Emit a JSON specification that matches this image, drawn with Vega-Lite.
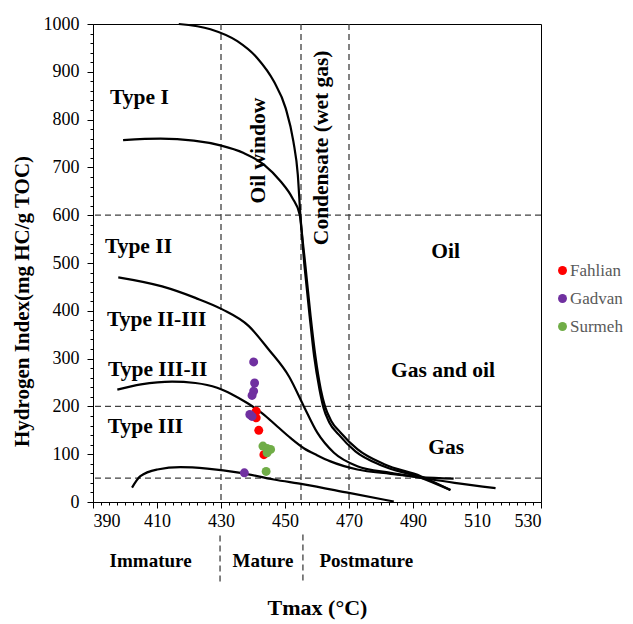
{
  "$schema": "https://vega.github.io/schema/vega-lite/v6.json",
  "width": 448,
  "height": 478,
  "autosize": "none",
  "padding": {"left": 93, "top": 24, "right": 92, "bottom": 122},
  "background": "white",
  "config": {
    "view": {"stroke": "black", "strokeWidth": 1},
    "font": "Times New Roman, Liberation Serif, serif",
    "legend": {"orient": "none", "legendX": 461, "legendY": 238, "title": null, "labelFont": "Times New Roman, Liberation Serif, serif", "labelFontSize": 17, "labelColor": "#595959", "symbolType": "circle", "symbolSize": 80, "symbolStrokeWidth": 0, "rowPadding": 10, "labelOffset": -1}
  },
  "datasets": {
    "vrefs": [{"x": 430}, {"x": 455}, {"x": 470}],
    "hrefs": [{"y": 600}, {"y": 200}, {"y": 50}],
    "seps": [{"x": 429.7, "y": -70, "y2": -170}, {"x": 455.6, "y": -68, "y2": -172}],
    "curves": [
      {"s": "C1", "o": 1, "x": 416.8, "y": 1000},
      {"s": "C1", "o": 2, "x": 426.7, "y": 989},
      {"s": "C1", "o": 3, "x": 435.1, "y": 964},
      {"s": "C1", "o": 4, "x": 441.3, "y": 929},
      {"s": "C1", "o": 5, "x": 446.5, "y": 880},
      {"s": "C1", "o": 6, "x": 450.2, "y": 824},
      {"s": "C1", "o": 7, "x": 452.6, "y": 755},
      {"s": "C1", "o": 8, "x": 454.0, "y": 685},
      {"s": "C1", "o": 9, "x": 454.8, "y": 601},
      {"s": "C1", "o": 10, "x": 456.4, "y": 493},
      {"s": "C1", "o": 11, "x": 458.0, "y": 389},
      {"s": "C1", "o": 12, "x": 459.5, "y": 305},
      {"s": "C1", "o": 13, "x": 461.2, "y": 235},
      {"s": "C1", "o": 14, "x": 462.5, "y": 200},
      {"s": "C1", "o": 15, "x": 464.4, "y": 170},
      {"s": "C1", "o": 16, "x": 467.4, "y": 145},
      {"s": "C1", "o": 17, "x": 472.7, "y": 110},
      {"s": "C1", "o": 18, "x": 481.0, "y": 79},
      {"s": "C1", "o": 19, "x": 492.4, "y": 54},
      {"s": "C1", "o": 20, "x": 501.7, "y": 25},
      {"s": "C2", "o": 1, "x": 399.4, "y": 757},
      {"s": "C2", "o": 2, "x": 411.1, "y": 760},
      {"s": "C2", "o": 3, "x": 421.5, "y": 756},
      {"s": "C2", "o": 4, "x": 429.8, "y": 746},
      {"s": "C2", "o": 5, "x": 437.1, "y": 730},
      {"s": "C2", "o": 6, "x": 443.4, "y": 706},
      {"s": "C2", "o": 7, "x": 448.6, "y": 671},
      {"s": "C2", "o": 8, "x": 452.3, "y": 636},
      {"s": "C2", "o": 9, "x": 454.6, "y": 601},
      {"s": "C2", "o": 10, "x": 456.1, "y": 493},
      {"s": "C2", "o": 11, "x": 457.7, "y": 389},
      {"s": "C2", "o": 12, "x": 459.1, "y": 305},
      {"s": "C2", "o": 13, "x": 460.8, "y": 235},
      {"s": "C2", "o": 14, "x": 462.0, "y": 198},
      {"s": "C2", "o": 15, "x": 463.8, "y": 167},
      {"s": "C2", "o": 16, "x": 466.8, "y": 141},
      {"s": "C2", "o": 17, "x": 472.0, "y": 106},
      {"s": "C2", "o": 18, "x": 480.4, "y": 76},
      {"s": "C2", "o": 19, "x": 492.0, "y": 52},
      {"s": "C2", "o": 20, "x": 501.7, "y": 25},
      {"s": "C3", "o": 1, "x": 397.9, "y": 470},
      {"s": "C3", "o": 2, "x": 411.6, "y": 451},
      {"s": "C3", "o": 3, "x": 422.0, "y": 427},
      {"s": "C3", "o": 4, "x": 430.4, "y": 403},
      {"s": "C3", "o": 5, "x": 438.7, "y": 368},
      {"s": "C3", "o": 6, "x": 444.9, "y": 319},
      {"s": "C3", "o": 7, "x": 451.3, "y": 262},
      {"s": "C3", "o": 8, "x": 455.9, "y": 200},
      {"s": "C3", "o": 9, "x": 460.1, "y": 145},
      {"s": "C3", "o": 10, "x": 465.3, "y": 103},
      {"s": "C3", "o": 11, "x": 472.6, "y": 75},
      {"s": "C3", "o": 12, "x": 483.0, "y": 61},
      {"s": "C3", "o": 13, "x": 492.3, "y": 51},
      {"s": "C3", "o": 14, "x": 503.0, "y": 40},
      {"s": "C3", "o": 15, "x": 515.8, "y": 29},
      {"s": "C4", "o": 1, "x": 397.6, "y": 235},
      {"s": "C4", "o": 2, "x": 405.0, "y": 246},
      {"s": "C4", "o": 3, "x": 414.7, "y": 252},
      {"s": "C4", "o": 4, "x": 422.0, "y": 249},
      {"s": "C4", "o": 5, "x": 428.8, "y": 239},
      {"s": "C4", "o": 6, "x": 433.5, "y": 225},
      {"s": "C4", "o": 7, "x": 438.2, "y": 207},
      {"s": "C4", "o": 8, "x": 443.0, "y": 185},
      {"s": "C4", "o": 9, "x": 447.6, "y": 158},
      {"s": "C4", "o": 10, "x": 451.7, "y": 134},
      {"s": "C4", "o": 11, "x": 456.0, "y": 112},
      {"s": "C4", "o": 12, "x": 460.0, "y": 98},
      {"s": "C4", "o": 13, "x": 464.2, "y": 85},
      {"s": "C4", "o": 14, "x": 472.6, "y": 68},
      {"s": "C4", "o": 15, "x": 483.0, "y": 59},
      {"s": "C4", "o": 16, "x": 492.3, "y": 52},
      {"s": "C4", "o": 17, "x": 502.7, "y": 49},
      {"s": "C5", "o": 1, "x": 402.2, "y": 30},
      {"s": "C5", "o": 2, "x": 404.8, "y": 54},
      {"s": "C5", "o": 3, "x": 410.1, "y": 68},
      {"s": "C5", "o": 4, "x": 417.3, "y": 73},
      {"s": "C5", "o": 5, "x": 425.7, "y": 70},
      {"s": "C5", "o": 6, "x": 436.1, "y": 61},
      {"s": "C5", "o": 7, "x": 446.5, "y": 47},
      {"s": "C5", "o": 8, "x": 455.9, "y": 37},
      {"s": "C5", "o": 9, "x": 470.0, "y": 19},
      {"s": "C5", "o": 10, "x": 484.0, "y": 1}
    ],
    "points": [
      {"formation": "Fahlian", "tmax": 441.0, "hi": 190},
      {"formation": "Fahlian", "tmax": 441.0, "hi": 176},
      {"formation": "Fahlian", "tmax": 441.8, "hi": 150},
      {"formation": "Fahlian", "tmax": 443.4, "hi": 99},
      {"formation": "Gadvan", "tmax": 440.2, "hi": 293},
      {"formation": "Gadvan", "tmax": 440.5, "hi": 249},
      {"formation": "Gadvan", "tmax": 440.2, "hi": 232},
      {"formation": "Gadvan", "tmax": 439.7, "hi": 223},
      {"formation": "Gadvan", "tmax": 439.0, "hi": 183},
      {"formation": "Gadvan", "tmax": 439.7, "hi": 179},
      {"formation": "Gadvan", "tmax": 437.3, "hi": 61},
      {"formation": "Surmeh", "tmax": 443.1, "hi": 117},
      {"formation": "Surmeh", "tmax": 444.4, "hi": 112},
      {"formation": "Surmeh", "tmax": 445.5, "hi": 110},
      {"formation": "Surmeh", "tmax": 444.4, "hi": 103},
      {"formation": "Surmeh", "tmax": 444.1, "hi": 64}
    ],
    "labels": [
      {"t": "Type I", "x": 404.5, "y": 833},
      {"t": "Type II", "x": 404.2, "y": 520},
      {"t": "Type II-III", "x": 409.9, "y": 368},
      {"t": "Type III-II", "x": 410.2, "y": 263},
      {"t": "Type III", "x": 406.4, "y": 145},
      {"t": "Oil", "x": 500.2, "y": 511},
      {"t": "Gas and oil", "x": 499.4, "y": 262},
      {"t": "Gas", "x": 500.4, "y": 101}
    ],
    "vlabels": [
      {"t": "Oil window", "x": 442.0, "y": 735},
      {"t": "Condensate (wet gas)", "x": 461.7, "y": 741}
    ],
    "blabels": [
      {"t": "Immature", "x": 408.0, "y": -137},
      {"t": "Mature", "x": 443.1, "y": -137},
      {"t": "Postmature", "x": 475.4, "y": -137}
    ]
  },
  "layer": [
    {
      "data": {"name": "vrefs"},
      "mark": {"type": "rule", "color": "#404040", "strokeWidth": 1.3, "strokeDash": [6, 4]},
      "encoding": {
        "x": {"field": "x", "type": "quantitative", "scale": {"domain": [390, 530], "nice": false, "zero": false},
          "axis": {"orient": "bottom", "values": [390,392.5,395,397.5,400,402.5,405,407.5,410,412.5,415,417.5,420,422.5,425,427.5,430,432.5,435,437.5,440,442.5,445,447.5,450,452.5,455,457.5,460,462.5,465,467.5,470,472.5,475,477.5,480,482.5,485,487.5,490,492.5,495,497.5,500,502.5,505,507.5,510,512.5,515,517.5,520,522.5,525,527.5,530],
            "format": "d", "labelExpr": "datum.value % 20 === 10 ? datum.label : ''", "labelOverlap": false, "grid": false, "domainColor": "black", "tickColor": "black",
            "tickSize": {"condition": {"test": "datum.value % 20 === 10", "value": 6}, "value": 3},
            "labelFont": "Times New Roman, Liberation Serif, serif", "labelFontSize": 18, "labelColor": "black", "labelPadding": 4,
            "title": "Tmax (°C)", "titleFont": "Times New Roman, Liberation Serif, serif", "titleFontSize": 22, "titleFontWeight": "bold", "titleColor": "black", "titleY": 95, "titleBaseline": "top"}}
      }
    },
    {
      "data": {"name": "hrefs"},
      "mark": {"type": "rule", "color": "#404040", "strokeWidth": 1.3, "strokeDash": [6, 4]},
      "encoding": {
        "y": {"field": "y", "type": "quantitative", "scale": {"domain": [0, 1000], "nice": false, "zero": false},
          "axis": {"orient": "left", "values": [0,20,40,60,80,100,120,140,160,180,200,220,240,260,280,300,320,340,360,380,400,420,440,460,480,500,520,540,560,580,600,620,640,660,680,700,720,740,760,780,800,820,840,860,880,900,920,940,960,980,1000],
            "format": "d", "labelExpr": "datum.value % 100 === 0 ? datum.label : ''", "labelOverlap": false, "grid": false, "domainColor": "black", "tickColor": "black",
            "tickSize": {"condition": {"test": "datum.value % 100 === 0", "value": 6}, "value": 3},
            "labelFont": "Times New Roman, Liberation Serif, serif", "labelFontSize": 18, "labelColor": "black", "labelPadding": 8,
            "title": "Hydrogen Index(mg HC/g TOC)", "titleFont": "Times New Roman, Liberation Serif, serif", "titleFontSize": 21, "titleFontWeight": "bold", "titleColor": "black", "titleX": -71, "titleY": 277, "titleAngle": 270, "titleAlign": "center", "titleBaseline": "middle"}}
      }
    },
    {
      "data": {"name": "curves"},
      "mark": {"type": "line", "color": "black", "strokeWidth": 2.2, "interpolate": "monotone"},
      "encoding": {
        "x": {"field": "x", "type": "quantitative", "scale": {"domain": [390, 530], "nice": false, "zero": false}, "axis": null},
        "y": {"field": "y", "type": "quantitative", "scale": {"domain": [0, 1000], "nice": false, "zero": false}, "axis": null},
        "detail": {"field": "s"},
        "order": {"field": "o", "type": "quantitative"}
      }
    },
    {
      "data": {"name": "seps"},
      "mark": {"type": "rule", "color": "#404040", "strokeWidth": 1.3, "strokeDash": [6, 4]},
      "encoding": {
        "x": {"field": "x", "type": "quantitative", "scale": {"domain": [390, 530], "nice": false, "zero": false}, "axis": null},
        "y": {"field": "y", "type": "quantitative", "scale": {"domain": [0, 1000], "nice": false, "zero": false}, "axis": null},
        "y2": {"field": "y2"}
      }
    },
    {
      "data": {"name": "points"},
      "mark": {"type": "point", "filled": true, "opacity": 1, "size": 80, "shape": "circle"},
      "encoding": {
        "x": {"field": "tmax", "type": "quantitative", "scale": {"domain": [390, 530], "nice": false, "zero": false}, "axis": null},
        "y": {"field": "hi", "type": "quantitative", "scale": {"domain": [0, 1000], "nice": false, "zero": false}, "axis": null},
        "color": {"field": "formation", "type": "nominal", "scale": {"domain": ["Fahlian", "Gadvan", "Surmeh"], "range": ["#FF0000", "#7030A0", "#70AD47"]}}
      }
    },
    {
      "data": {"name": "labels"},
      "mark": {"type": "text", "font": "Times New Roman, Liberation Serif, serif", "fontWeight": "bold", "fontSize": 21.5, "align": "center", "baseline": "alphabetic", "color": "black"},
      "encoding": {
        "x": {"field": "x", "type": "quantitative", "scale": {"domain": [390, 530], "nice": false, "zero": false}, "axis": null},
        "y": {"field": "y", "type": "quantitative", "scale": {"domain": [0, 1000], "nice": false, "zero": false}, "axis": null},
        "text": {"field": "t"}
      }
    },
    {
      "data": {"name": "vlabels"},
      "mark": {"type": "text", "font": "Times New Roman, Liberation Serif, serif", "fontWeight": "bold", "fontSize": 21.5, "align": "center", "baseline": "middle", "angle": 270, "color": "black"},
      "encoding": {
        "x": {"field": "x", "type": "quantitative", "scale": {"domain": [390, 530], "nice": false, "zero": false}, "axis": null},
        "y": {"field": "y", "type": "quantitative", "scale": {"domain": [0, 1000], "nice": false, "zero": false}, "axis": null},
        "text": {"field": "t"}
      }
    },
    {
      "data": {"name": "blabels"},
      "mark": {"type": "text", "font": "Times New Roman, Liberation Serif, serif", "fontWeight": "bold", "fontSize": 19, "align": "center", "baseline": "alphabetic", "color": "black"},
      "encoding": {
        "x": {"field": "x", "type": "quantitative", "scale": {"domain": [390, 530], "nice": false, "zero": false}, "axis": null},
        "y": {"field": "y", "type": "quantitative", "scale": {"domain": [0, 1000], "nice": false, "zero": false}, "axis": null},
        "text": {"field": "t"}
      }
    }
  ],
  "resolve": {"axis": {"x": "independent", "y": "independent"}}
}
